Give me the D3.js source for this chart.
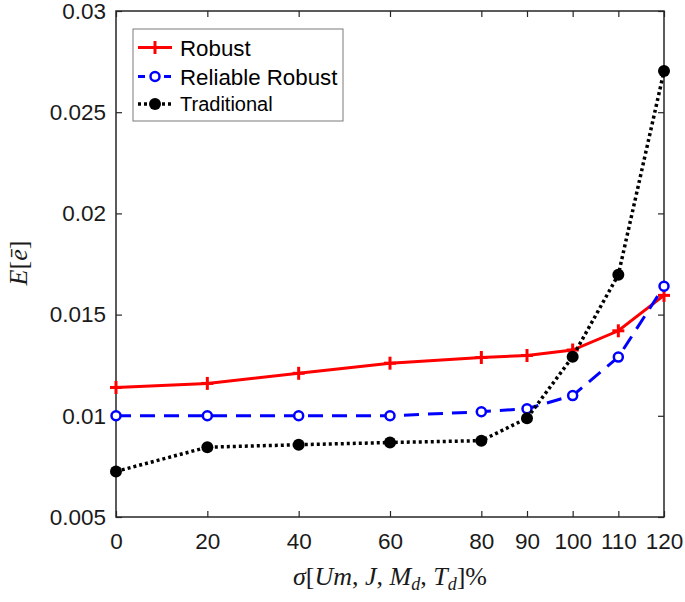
<!DOCTYPE html>
<html><head><meta charset="utf-8">
<script src="https://cdn.jsdelivr.net/npm/d3@7"></script>
<style>body{margin:0;background:#fff}</style>
</head><body><svg id="c" width="685" height="602"></svg>
<script>
const xValues=[0,20,40,60,80,90,100,110,120];
const robust=[0.01140,0.01160,0.01210,0.01260,0.01288,0.01298,0.01325,0.01420,0.01595];
const reliableRobust=[0.01000,0.01000,0.01000,0.01000,0.01020,0.01035,0.01100,0.01290,0.01640];
const traditional=[0.00725,0.00845,0.00857,0.00868,0.00877,0.00988,0.01292,0.01697,0.02703];
const xTicks=[0,20,40,60,80,90,100,110,120];
const yTicks=[0.005,0.01,0.015,0.02,0.025,0.03];
const yTickLabels=["0.005","0.01","0.015","0.02","0.025","0.03"];
const seriesNames=["Robust","Reliable Robust","Traditional"];
const seriesColors=["#ff0000","#0000ff","#000000"];

const svg=d3.select("#c");
const L=116,R=664,T=11,B=517;
const x=d3.scaleLinear().domain([0,120]).range([L,R]);
const y=d3.scaleLinear().domain([0.005,0.03]).range([B,T]);
const axisColor="#262626";
const font="'Liberation Sans', Arial, sans-serif";

// axes
const gx=svg.append("g").attr("transform",`translate(0,${B})`)
  .call(d3.axisBottom(x).tickValues(xTicks).tickFormat(d=>d).tickSizeInner(-6).tickSizeOuter(0).tickPadding(16.5));
const gy=svg.append("g").attr("transform",`translate(${L},0)`)
  .call(d3.axisLeft(y).tickValues(yTicks).tickFormat((d,i)=>yTickLabels[i]).tickSizeInner(-6).tickSizeOuter(0).tickPadding(10));
const gxt=svg.append("g").attr("transform",`translate(0,${T})`)
  .call(d3.axisTop(x).tickValues(xTicks).tickFormat("").tickSizeInner(-6).tickSizeOuter(0));
const gyr=svg.append("g").attr("transform",`translate(${R},0)`)
  .call(d3.axisRight(y).tickValues(yTicks).tickFormat("").tickSizeInner(-6).tickSizeOuter(0));
[gx,gy,gxt,gyr].forEach(g=>{
  g.select(".domain").remove();
  g.selectAll("line").attr("stroke",axisColor).attr("stroke-width",1.2);
  g.selectAll("text").attr("fill","#1a1a1a").style("font-family",font).style("font-size","22.5px");
});
svg.append("rect").attr("x",L).attr("y",T).attr("width",R-L).attr("height",B-T)
  .attr("fill","none").attr("stroke",axisColor).attr("stroke-width",1.5);

const line=d3.line().x(d=>x(d[0])).y(d=>y(d[1]));
function pts(arr){return xValues.map((v,i)=>[v,arr[i]]);}

const styles=[
  {data:robust,dash:null,w:3},
  {data:reliableRobust,dash:"15,9",w:3},
  {data:traditional,dash:"3,3",w:3.5}
];
function plus(g,cx,cy,c){
  g.append("line").attr("x1",cx-6).attr("x2",cx+6).attr("y1",cy).attr("y2",cy).attr("stroke",c).attr("stroke-width",3);
  g.append("line").attr("x1",cx).attr("x2",cx).attr("y1",cy-6.5).attr("y2",cy+6.5).attr("stroke",c).attr("stroke-width",3);
}
function marker(g,k,cx,cy){
  if(k===0) plus(g,cx,cy,seriesColors[0]);
  else if(k===1) g.append("circle").attr("cx",cx).attr("cy",cy).attr("r",4.5).attr("fill","#fff").attr("stroke",seriesColors[1]).attr("stroke-width",2.5);
  else g.append("circle").attr("cx",cx).attr("cy",cy).attr("r",6).attr("fill",seriesColors[2]);
}
styles.forEach((s,k)=>{
  const g=svg.append("g");
  g.append("path").datum(pts(s.data)).attr("d",line).attr("fill","none")
    .attr("stroke",seriesColors[k]).attr("stroke-width",s.w)
    .attr("stroke-dasharray",s.dash);
  pts(s.data).forEach(p=>marker(g,k,x(p[0]),y(p[1])));
});

// legend
const lg=svg.append("g");
lg.append("rect").attr("x",133).attr("y",29).attr("width",210).attr("height",92)
  .attr("fill","#fff").attr("stroke","#7a7a7a").attr("stroke-width",1);
const rowY=[47.5,76.5,104];
const fs=[22.3,22.3,20];
seriesNames.forEach((n,k)=>{
  const yy=rowY[k];
  lg.append("line").attr("x1",138).attr("x2",172).attr("y1",yy).attr("y2",yy)
    .attr("stroke",seriesColors[k]).attr("stroke-width",styles[k].w).attr("stroke-dasharray",styles[k].dash==null?null:(k===1?"7,6":"3,3"));
  marker(lg,k,155,yy);
  lg.append("text").attr("x",180).attr("y",yy).attr("dy","0.36em").text(n)
    .style("font-family",font).style("font-size",fs[k]+"px").attr("fill","#000");
});

// axis labels
const serif="'Liberation Serif','Times New Roman',serif";
const xl=svg.append("text").attr("x",390).attr("y",585).attr("text-anchor","middle")
  .style("font-family",serif).style("font-size","26px").attr("fill","#1a1a1a");
[["σ",1],["[",0],["Um",1],[", ",0],["J",1],[", ",0],["M",1],["d",1,1],[", ",0],["T",1],["d",1,1],["]%",0]].forEach(t=>{
  const sp=xl.append("tspan").text(t[0]).style("font-style",t[1]?"italic":"normal");
  if(t[2]){sp.style("font-size","18px").attr("dy",5);}
  else if(xl.selectAll("tspan").size()>1){
    const prev=xl.selectAll("tspan").nodes();
    const p=prev[prev.length-2];
    if(p && p.getAttribute("dy")==="5") sp.attr("dy",-5);
  }
});
const yl=svg.append("text").attr("transform","translate(27,263) rotate(-90)").attr("text-anchor","middle")
  .style("font-family",serif).style("font-size","26px").attr("fill","#1a1a1a");
yl.append("tspan").text("E").style("font-style","italic");
yl.append("tspan").text("[");
yl.append("tspan").text("ē").style("font-style","italic");
yl.append("tspan").text("]");
</script>
</body></html>
